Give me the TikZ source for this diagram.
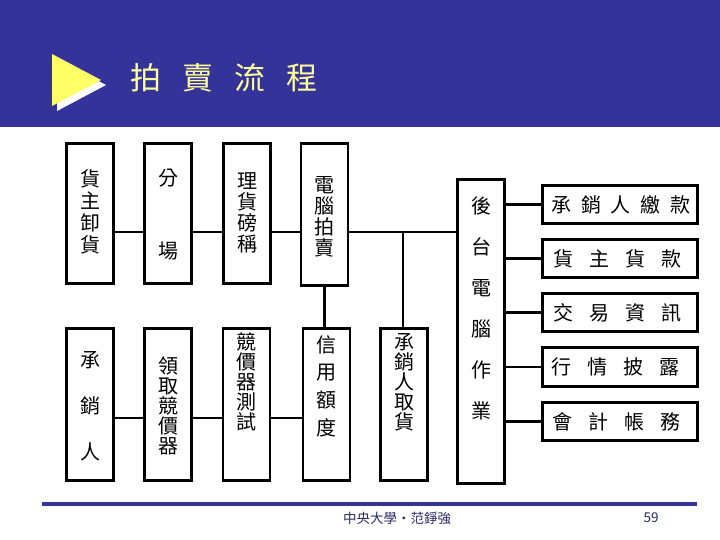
\documentclass[tikz,border=0pt]{standalone}
\usepackage{fontspec}
\newfontfamily\cjk{Noto Sans CJK TC}
\newfontfamily\cjkls[LetterSpace=48]{Noto Sans CJK TC}
\definecolor{titleblue}{HTML}{333399}
\definecolor{triyellow}{HTML}{FFFF66}
\definecolor{titletext}{HTML}{FFFF99}
\definecolor{foottext}{HTML}{2B2B66}
\newcommand\myTitleFont{\cjk\fontsize{31}{36}\selectfont\spaceskip=21pt\relax}
\newcommand\myBoxFont{\cjk\fontsize{20}{24}\selectfont\spaceskip=16pt\relax}
\begin{document}
\begin{tikzpicture}[x=1pt,y=-1pt,
  box/.style={draw=black, line width=2.6pt, inner sep=0pt, fill=white},
  conn/.style={line width=2.6pt},
  vtext/.style={align=center, inner sep=0pt, font=\cjk\fontsize{20}{#1}\selectfont},
  htext/.style={inner sep=0pt, font=\myBoxFont}
]
\useasboundingbox (0,0) rectangle (720,540);
\fill[white] (0,0) rectangle (720,540);
% title bar
\fill[titleblue] (0,0) rectangle (720,127);
\fill[white] (57,59) -- (57,111) -- (106,85) -- cycle;
\fill[triyellow] (52,54) -- (52,106) -- (101,80) -- cycle;
\node[inner sep=0pt, text=titletext, font=\myTitleFont] (title) at (224,78) {拍 賣 流 程};

% row 1 boxes
\node[box, minimum width=47pt, minimum height=140pt] (b1) at (90,213.5) {};
\node[box, minimum width=47pt, minimum height=140pt] (b2) at (168,213.5) {};
\node[box, minimum width=47pt, minimum height=140pt] (b3) at (247,213.5) {};
\node[box, minimum width=47pt, minimum height=142pt] (b4) at (324.5,214.5) {};
% row 2 boxes
\node[box, minimum width=47pt, minimum height=152pt] (c1) at (90,404.5) {};
\node[box, minimum width=47pt, minimum height=152pt] (c2) at (168,404.5) {};
\node[box, minimum width=47pt, minimum height=152pt] (c3) at (246.5,404.5) {};
\node[box, minimum width=47pt, minimum height=152pt] (c4) at (326.5,404.5) {};
\node[box, minimum width=47pt, minimum height=152pt] (c5) at (404,404.5) {};
% back office box
\node[box, minimum width=47.5pt, minimum height=304pt] (back) at (481,331.5) {};
% right boxes
\node[box, minimum width=155pt, minimum height=38.5pt] (ra) at (620,204.5) {};
\node[box, minimum width=155pt, minimum height=38.5pt] (rb) at (620,258.5) {};
\node[box, minimum width=155pt, minimum height=38.5pt] (rc) at (620,312.5) {};
\node[box, minimum width=155pt, minimum height=38.5pt] (rd) at (620,367) {};
\node[box, minimum width=155pt, minimum height=38.5pt] (re) at (620,421.5) {};

% texts
\node[vtext=22] (t1) at (90,212) {貨\\主\\卸\\貨};
\node[vtext=73] (t2) at (168,214.5) {分\\場};
\node[vtext=21] (t3) at (247,213) {理\\貨\\磅\\稱};
\node[vtext=21] (t4) at (324.5,217) {電\\腦\\拍\\賣};
\node[vtext=46] (u1) at (90,406) {承\\銷\\人};
\node[vtext=20] (u2) at (168,406) {領\\取\\競\\價\\器};
\node[vtext=20] (u3) at (246.5,382) {競\\價\\器\\測\\試};
\node[vtext=27.7] (u4) at (326.5,386) {信\\用\\額\\度};
\node[vtext=20] (u5) at (404,382) {承\\銷\\人\\取\\貨};
\node[vtext=41] (bt) at (481,308) {後\\台\\電\\腦\\作\\業};
\node[inner sep=0pt, font=\cjkls\fontsize{20}{24}\selectfont] (ta) at (621,204.5) {承銷人繳款};
\node[htext] (tb) at (617,258.5) {貨 主 貨 款};
\node[htext] (tc) at (617,312.5) {交 易 資 訊};
\node[htext] (td) at (615,367) {行 情 披 露};
\node[htext] (te) at (616,421.5) {會 計 帳 務};

% connectors
\coordinate (r1) at (0,232);
\coordinate (r2) at (0,418);
\draw[conn] (b1.east |- r1) -- (b2.west |- r1);
\draw[conn] (b2.east |- r1) -- (b3.west |- r1);
\draw[conn] (b3.east |- r1) -- (b4.west |- r1);
\draw[conn] (b4.east |- r1) -- (back.west |- r1);
\draw[conn] ([xshift=-1pt]c5.north |- r1) -- ([xshift=-1pt]c5.north);
\draw[conn] (b4.south) -- (b4.south |- c4.north);
\draw[conn] (c1.east |- r2) -- (c2.west |- r2);
\draw[conn] (c2.east |- r2) -- (c3.west |- r2);
\draw[conn] (c3.east |- r2) -- (c4.west |- r2);
\draw[conn] (back.east |- ra.west) -- (ra.west);
\draw[conn] (back.east |- rb.west) -- (rb.west);
\draw[conn] (back.east |- rc.west) -- (rc.west);
\draw[conn] (back.east |- rd.west) -- (rd.west);
\draw[conn] (back.east |- re.west) -- (re.west);

% footer
\draw[titleblue, line width=4pt] (42,504) -- (697,504);
\node[inner sep=0pt, text=foottext, font=\cjk\fontsize{13.5}{16}\selectfont] (foot) at (397,518) {中央大學‧范錚強};
\node[inner sep=0pt, text=foottext, font=\cjk\fontsize{13.5}{16}\selectfont] (page) at (651,518) {59};
\end{tikzpicture}
\end{document}
